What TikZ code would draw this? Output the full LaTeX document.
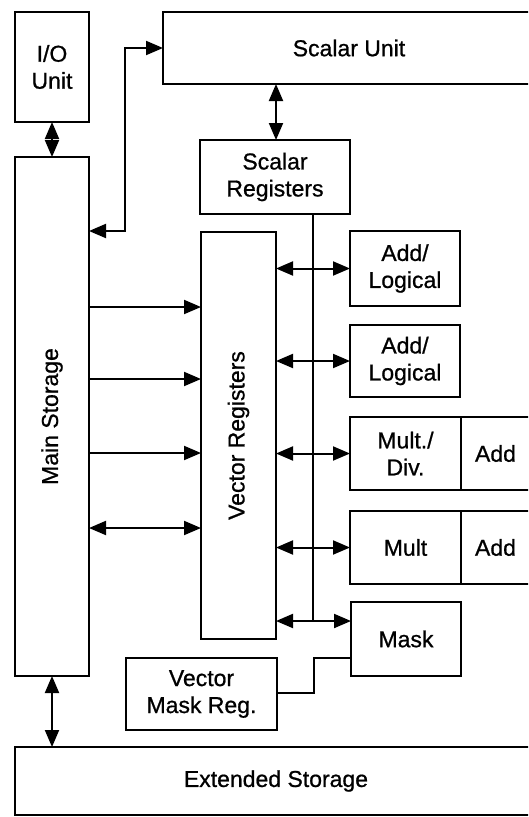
\documentclass[tikz,border=0pt]{standalone}
\usepackage{fontspec}
\setmainfont{Liberation Sans}
\newfontfamily\lblfont{Liberation Sans}[FakeBold=0.8]
\usetikzlibrary{arrows.meta,calc}
\tikzset{hd/.tip={Triangle[length=17pt 0 0,width=14pt 0 0]}}
\begin{document}
\begin{tikzpicture}[x=1pt,y=-1pt,
  box/.style={draw, line width=2pt, inner sep=2pt, outer sep=0pt, align=center,
    font=\lblfont\fontsize{23}{27}\selectfont},
  conn/.style={line width=2pt},
  biarrow/.style={conn, hd-hd},
  onearrow/.style={conn, -hd}]
\useasboundingbox (0,0) rectangle (528,817);
\clip (0,0) rectangle (528,817);
\fill[white] (0,0) rectangle (528,817);

% boxes
\node[box, minimum width=74, minimum height=110] (io) at (52,67) {I/O\\Unit};
\node[box, minimum width=372, minimum height=72] (su) at (349,48) {Scalar Unit};
\node[box, minimum width=74, minimum height=519] (ms) at (52,416.5) {};
\node[rotate=90, font=\lblfont\fontsize{23}{27}\selectfont] (mst) at (ms.center) {Main Storage};
\node[box, minimum width=150, minimum height=74] (sr) at (275,177) {Scalar\\Registers};
\node[box, minimum width=75, minimum height=407] (vr) at (238.5,435.5) {};
\node[rotate=90, font=\lblfont\fontsize{23}{27}\selectfont] (vrt) at (vr.center) {Vector Registers};
\node[box, minimum width=110, minimum height=75] (al1) at (405,268.5) {Add/\\Logical};
\node[box, minimum width=110, minimum height=72] (al2) at (405,361) {Add/\\Logical};
\node[box, minimum width=111, minimum height=73] (md) at (405.5,453.5) {Mult./\\Div.};
\node[box, minimum width=69, minimum height=73, anchor=west] (ad1) at (md.east) {Add};
\node[box, minimum width=111, minimum height=73] (mu) at (405.5,547.5) {Mult};
\node[box, minimum width=69, minimum height=73, anchor=west] (ad2) at (mu.east) {Add};
\node[box, minimum width=110, minimum height=74] (mk) at (406,639) {Mask};
\node[box, minimum width=151, minimum height=72] (vm) at (201.5,694) {Vector\\Mask Reg.};
\node[box, minimum width=522, minimum height=68] (es) at (276,781) {Extended Storage};

% I/O - main storage - extended storage
\draw[biarrow] (io.south) -- (ms.north);
\draw[biarrow] (ms.south) -- (ms.south |- es.north);

% main storage <-> scalar unit
\coordinate (sx) at (125,231);
\draw[biarrow] (ms.east |- sx) -- (sx) |- (su.west);

% scalar unit <-> scalar registers
\draw[biarrow] (su.south -| 276,0) -- (sr.north -| 276,0);

% main storage -> vector registers
\foreach \yy/\nm in {307/a,379/b,453/c}{
  \coordinate (m\nm) at (89,\yy);
  \draw[onearrow] (ms.east |- m\nm) -- (vr.west |- m\nm);
}
\coordinate (md4) at (89,528);
\draw[biarrow] (ms.east |- md4) -- (vr.west |- md4);

% scalar registers bus
\coordinate (bt) at (313,214);
\coordinate (bb) at (313,621);
\draw[conn] (bt) -- (bb);

% vector registers <-> functional units
\draw[biarrow] (vr.east |- al1.west) -- (al1.west);
\draw[biarrow] (vr.east |- al2.west) -- (al2.west);
\draw[biarrow] (vr.east |- md.west) -- (md.west);
\draw[biarrow] (vr.east |- mu.west) -- (mu.west);
\draw[biarrow] (vr.east |- bb) -- (mk.west |- bb);

% mask -> vector mask reg
\coordinate (k1) at (314,658);
\coordinate (k2) at (314,693);
\draw[conn] (mk.west |- k1) -- (k1) -- (k2) -- (vm.east |- k2);
\end{tikzpicture}
\end{document}
